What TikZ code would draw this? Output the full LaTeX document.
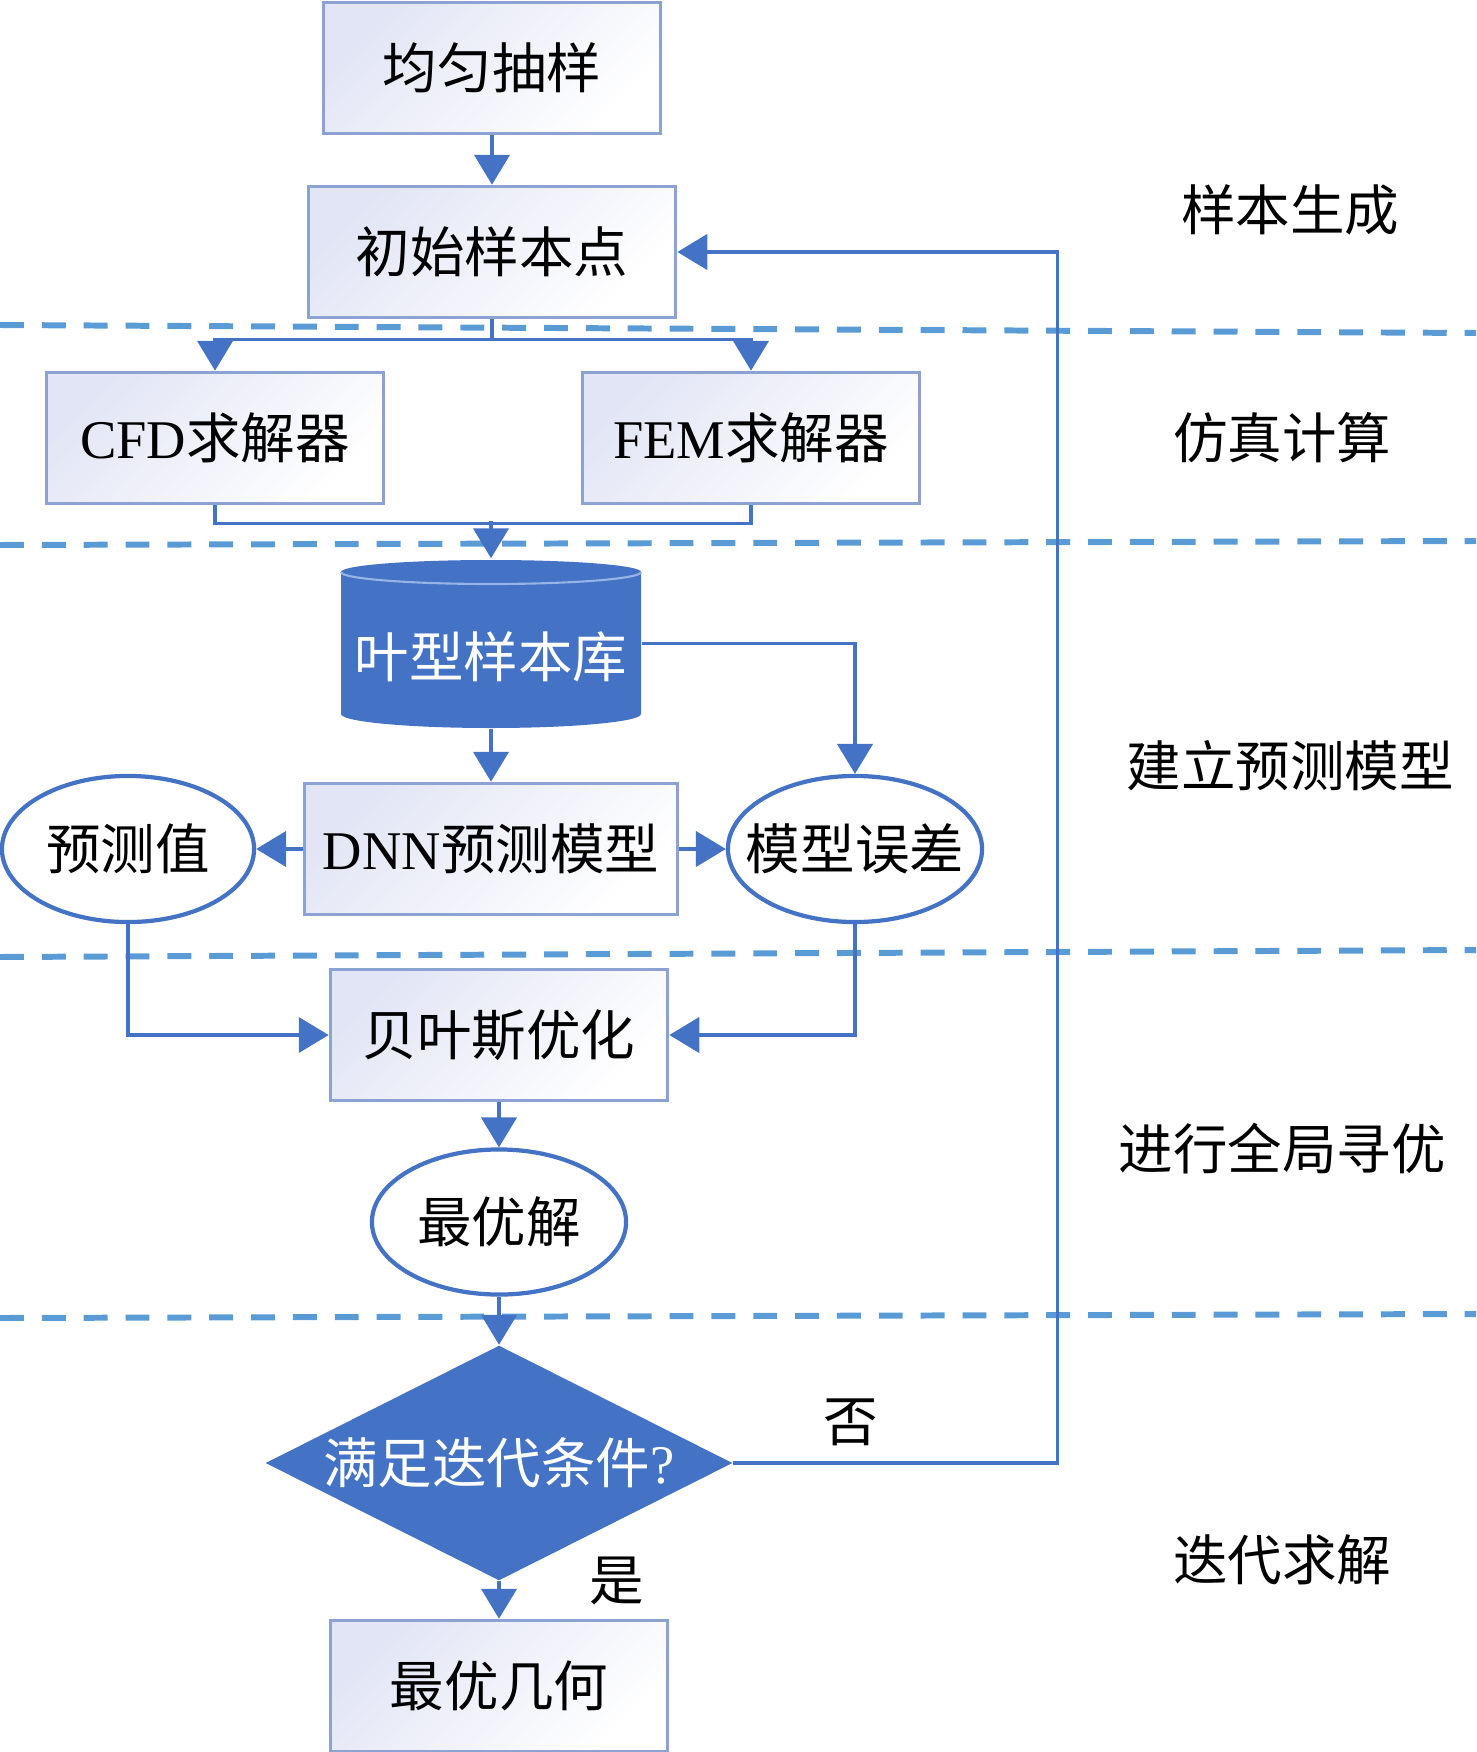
\documentclass[tikz,border=0pt]{standalone}
\usepackage{fontspec}
\setmainfont{Noto Sans CJK SC}
\newfontfamily\lat{Liberation Serif}
\usepackage{tikz}
\usetikzlibrary{arrows.meta}
\usetikzlibrary{shapes.geometric}

\definecolor{lineblue}{HTML}{4472C4}
\definecolor{dbblue}{HTML}{4472C4}
\definecolor{dashblue}{HTML}{5B9BD5}
\definecolor{boxedge}{RGB}{140,162,210}
\definecolor{boxfill}{RGB}{226,229,245}
\definecolor{capline}{RGB}{150,180,230}
\newcommand\nowid[1]{\makebox[0pt]{#1}}

\begin{document}
\begin{tikzpicture}[x=0.01cm, y=-0.01cm, >={Triangle[width=10pt,length=8.5pt]}, every node/.style={font=\fontsize{15.5pt}{18pt}\selectfont},
  procbox/.style={draw=boxedge, line width=1pt, top color=boxfill, bottom color=white, shading angle=45, minimum width=3.37cm, minimum height=1.31cm, inner sep=0pt},
  ovalbox/.style={ellipse, draw=lineblue, line width=1.2pt, fill=white, minimum width=2.52cm, minimum height=1.46cm, inner sep=0pt},
  dbbox/.style={text=white, minimum width=3cm, minimum height=1.69cm, inner sep=0pt, text height=0.68cm, text depth=0pt},
  decbox/.style={diamond, fill=dbblue, text=white, minimum width=4.67cm, minimum height=2.35cm, inner sep=0pt},
  flow/.style={draw=lineblue, line width=1pt, ->},
  sect/.style={draw=dashblue, line width=1.7pt, dash pattern=on 6.8pt off 5.1pt}]
\useasboundingbox (0,0) rectangle (1476,1752);
% stage borders
\draw[sect] (0,325) -- (1476,333);
\draw[sect] (0,545) -- (1476,541);
\draw[sect] (0,957) -- (1476,950);
\draw[sect] (0,1318) -- (1476,1314);
% steps
\node[procbox] (samp) at (492,68) {均匀抽样};
\node[procbox, minimum width=3.67cm] (init) at (492,252) {初始样本点};
\node[procbox] (cfd) at (215,438) {{\lat CFD}求解器};
\node[procbox] (fem) at (751,438) {{\lat FEM}求解器};
% sample library drum
\fill[dbblue] (341,572) arc[start angle=180, end angle=360, x radius=150, y radius=12]
  -- (641,714) arc[start angle=0, end angle=180, x radius=150, y radius=14] -- cycle;
\draw[capline, line width=0.6pt] (341,572) arc[start angle=180, end angle=0, x radius=150, y radius=12];
\node[dbbox] (lib) at (491,643.5) {叶型样本库};
\node[procbox, minimum width=3.73cm] (dnn) at (491,849) {{\lat DNN}预测模型};
\node[ovalbox] (pred) at (128,849) {\nowid{预测值}};
\node[ovalbox, minimum width=2.54cm] (err) at (855,849) {\nowid{模型误差}};
\node[procbox] (bay) at (499,1035) {贝叶斯优化};
\node[ovalbox, minimum width=2.54cm, minimum height=1.45cm] (opt) at (499,1222) {\nowid{最优解}};
\node[decbox] (cond) at (499,1463) {\nowid{满足迭代条件{\lat ?}}};
\node[procbox] (best) at (499,1686) {最优几何};
% connectors
\draw[flow] (samp) -- (init);
\draw[flow] (init.south) -- ++(0,20) -| (cfd.north);
\draw[flow] (init.south) -- ++(0,20) -| (fem.north);
\draw[draw=lineblue, line width=1pt] (cfd.south) -- ++(0,18) -| (fem.south);
\coordinate (merge) at (491,521);
\draw[flow] (merge) -- (lib.north);
\draw[flow] (lib.east) -| (err.north);
\draw[flow] (lib.south) -- (dnn.north);
\draw[flow] (dnn.west) -- (pred.east);
\draw[flow] (dnn.east) -- (err.west);
\draw[flow] (pred.south) |- (bay.west);
\draw[flow] (err.south) |- (bay.east);
\draw[flow] (bay) -- (opt);
\draw[flow] (opt) -- (cond);
\draw[flow] (cond) -- (best);
\draw[flow] (cond.east) -- ++(324,0) |- (init.east);
\node (no) at (851,1422) {否};
\node (yes) at (617,1581) {是};
% stage names
\node (stg1) at (1290,210) {样本生成};
\node (stg2) at (1282,438) {仿真计算};
\node (stg3) at (1290,766) {建立预测模型};
\node (stg4) at (1282,1149) {进行全局寻优};
\node (stg5) at (1282,1560) {迭代求解};
\end{tikzpicture}
\end{document}
